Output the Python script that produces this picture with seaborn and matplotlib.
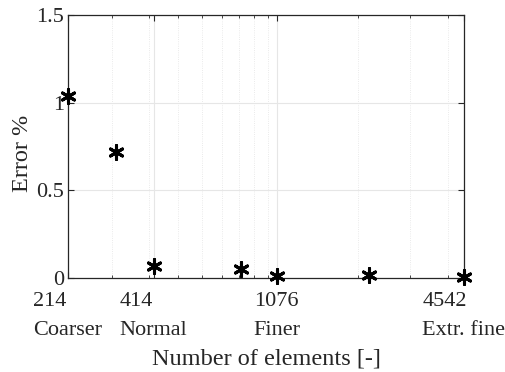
import matplotlib
matplotlib.use("Agg")
import matplotlib.pyplot as plt
import matplotlib.ticker as mticker
import seaborn as sns
import pandas as pd

elements = [214, 310, 414, 811, 1076, 2180, 4542]
error = [1.04, 0.72, 0.07, 0.05, 0.01, 0.015, 0.003]
xtick_vals = [214, 414, 1076, 4542]
xtick_labels = ["214\nCoarser", "414\nNormal", "1076\nFiner", "4542\nExtr. fine"]
ytick_vals = [0, 0.5, 1, 1.5]
ytick_labels = ["0", "0.5", "1", "1.5"]

sns.set_theme(style="white")
plt.rcParams['font.family'] = ['Liberation Serif', 'DejaVu Serif']
plt.rcParams['mathtext.fontset'] = 'stix'

df = pd.DataFrame({"elements": elements, "error": error})

fig = plt.figure(figsize=(5.06, 3.72), dpi=100)
ax = fig.add_axes([68/506, 1 - 278/372, (464-68)/506, (278-15)/372])

sns.scatterplot(data=df, x="elements", y="error", ax=ax, marker=(6, 2, 0),
                s=100, color="black", edgecolor="black", linewidth=2.2,
                clip_on=False, zorder=5, legend=False)

ax.set_xscale("log")
ax.set_xlim(214, 4542)
ax.set_ylim(0, 1.5)

ax.xaxis.set_major_locator(mticker.FixedLocator(xtick_vals))
ax.xaxis.set_major_formatter(mticker.FixedFormatter(xtick_labels))
ax.xaxis.set_minor_locator(mticker.LogLocator(base=10, subs=range(1, 10), numticks=20))
ax.xaxis.set_minor_formatter(mticker.NullFormatter())
ax.set_yticks(ytick_vals)
ax.set_yticklabels(ytick_labels)

ax.tick_params(axis="both", which="major", direction="in", length=4, width=0.8,
               colors="#262626", labelsize=16, labelcolor="#262626",
               top=True, right=True, bottom=True, left=True)
ax.tick_params(axis="x", which="major", pad=10)
ax.tick_params(axis="y", which="major", pad=3)
ax.tick_params(axis="x", which="minor", direction="in", length=2.5, width=0.6,
               colors="#262626", top=True, bottom=True)
ax.tick_params(axis="y", which="minor", left=False, right=False)

for lab in ax.get_xticklabels():
    lab.set_multialignment("left")
    lab.set_linespacing(1.75)

ax.grid(True, which="major", axis="both", color="#e6e6e6", linewidth=0.8, linestyle="-")
ax.grid(True, which="minor", axis="x", color="#e3e3e3", linewidth=0.6, linestyle=":")
ax.set_axisbelow(True)

for sp in ax.spines.values():
    sp.set_color("#262626")
    sp.set_linewidth(0.9)
    sp.set_visible(True)

ax.set_xlabel("Number of elements [-]", fontsize=17.5, color="#262626", labelpad=6)
ax.set_ylabel("Error %", fontsize=17.5, color="#262626")
ax.yaxis.set_label_coords(-0.088, 0.475)

fig.savefig("out.png", dpi=100)
